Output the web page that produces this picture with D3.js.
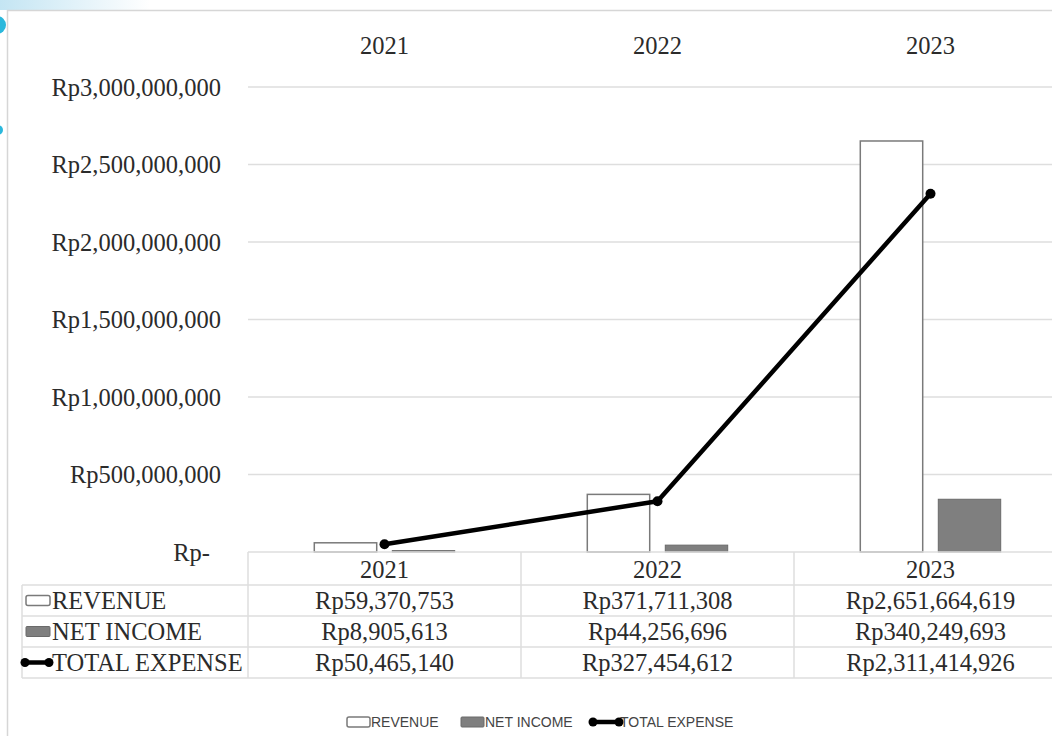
<!DOCTYPE html>
<html>
<head>
<meta charset="utf-8">
<script src="https://cdn.jsdelivr.net/npm/d3@7"></script>
<style>
  body { margin: 0; background: #fff; }
  svg { display: block; }
</style>
</head>
<body>
<div id="chart"></div>
<script>
const years = ["2021", "2022", "2023"];
const revenue = [59370753, 371711308, 2651664619];
const netIncome = [8905613, 44256696, 340249693];
const totalExpense = [50465140, 327454612, 2311414926];
const yTicks = [0, 500000000, 1000000000, 1500000000, 2000000000, 2500000000, 3000000000];
const seriesNames = ["REVENUE", "NET INCOME", "TOTAL EXPENSE"];

const width = 1052, height = 736;
const serif = "'Liberation Serif', 'Times New Roman', serif";
const txtColor = "#2b2b2b";
const gridColor = "#dedede";
const fontSize = "24.5px";

const svg = d3.select("#chart").append("svg")
    .attr("width", width)
    .attr("height", height);

// decoration of the page behind the chart
const defs = svg.append("defs");
const grad = defs.append("linearGradient").attr("id", "topGlow")
    .attr("x1", 0).attr("y1", 0).attr("x2", 1).attr("y2", 0);
grad.append("stop").attr("offset", 0).attr("stop-color", "#c4e5f3");
grad.append("stop").attr("offset", 1).attr("stop-color", "#ffffff");
svg.append("rect").attr("x", 0).attr("y", 0).attr("width", 150).attr("height", 10).attr("fill", "url(#topGlow)");
svg.append("circle").attr("cx", -3).attr("cy", 25).attr("r", 9).attr("fill", "#2bb8dc");
svg.append("circle").attr("cx", -2).attr("cy", 130).attr("r", 5).attr("fill", "#2bb8dc");

// chart frame
svg.append("path")
    .attr("d", `M7.5,${height} V10.5 H${width}`)
    .attr("fill", "none")
    .attr("stroke", "#d6d6d6")
    .attr("stroke-width", 1.5);

const x = d3.scaleBand().domain(years).range([248, 1067]);
const y = d3.scaleLinear().domain([0, 3000000000]).range([552, 87]);
const inner = d3.scaleBand().domain(["rev", "net"]).range([0, x.bandwidth()])
    .paddingInner(0.2).paddingOuter(0.85);

// grid lines
svg.append("g").selectAll("line")
    .data(yTicks.filter(d => d > 0))
    .join("line")
    .attr("x1", 248).attr("x2", width)
    .attr("y1", d => y(d)).attr("y2", d => y(d))
    .attr("stroke", gridColor).attr("stroke-width", 1.5);

// y axis labels
svg.append("g").selectAll("text")
    .data(yTicks)
    .join("text")
    .attr("x", d => d === 0 ? 210 : 221)
    .attr("y", d => y(d))
    .attr("dy", "0.35em")
    .attr("text-anchor", "end")
    .style("font-family", serif)
    .style("font-size", fontSize)
    .style("fill", txtColor)
    .text(d => d === 0 ? "Rp-" : "Rp" + d3.format(",")(d));

// top year labels
svg.append("g").selectAll("text")
    .data(years)
    .join("text")
    .attr("x", d => x(d) + x.bandwidth() / 2)
    .attr("y", 45)
    .attr("dy", "0.35em")
    .attr("text-anchor", "middle")
    .style("font-family", serif)
    .style("font-size", fontSize)
    .style("fill", txtColor)
    .text(d => d);

// bars
const bars = svg.append("g");
bars.selectAll(".rev")
    .data(years)
    .join("rect")
    .attr("class", "rev")
    .attr("x", d => x(d) + inner("rev"))
    .attr("width", inner.bandwidth())
    .attr("y", (d, i) => y(revenue[i]))
    .attr("height", (d, i) => y(0) - y(revenue[i]))
    .attr("fill", "#fff")
    .attr("stroke", "#7a7a7a")
    .attr("stroke-width", 1.5);
bars.selectAll(".net")
    .data(years)
    .join("rect")
    .attr("class", "net")
    .attr("x", d => x(d) + inner("net"))
    .attr("width", inner.bandwidth())
    .attr("y", (d, i) => y(netIncome[i]))
    .attr("height", (d, i) => y(0) - y(netIncome[i]))
    .attr("fill", "#7f7f7f")
    .attr("stroke", "#6a6a6a")
    .attr("stroke-width", 1);

// total expense line
const line = d3.line()
    .x((d, i) => x(years[i]) + x.bandwidth() / 2)
    .y(d => y(d));
svg.append("path")
    .datum(totalExpense)
    .attr("d", line)
    .attr("fill", "none")
    .attr("stroke", "#000")
    .attr("stroke-width", 4.5)
    .attr("stroke-linejoin", "round");
svg.append("g").selectAll("circle")
    .data(totalExpense)
    .join("circle")
    .attr("cx", (d, i) => x(years[i]) + x.bandwidth() / 2)
    .attr("cy", d => y(d))
    .attr("r", 5)
    .attr("fill", "#000");

// data table
const rowLines = [585, 616, 647, 678];
const table = svg.append("g");
table.append("line").attr("x1", 248).attr("x2", width).attr("y1", 552).attr("y2", 552)
    .attr("stroke", gridColor).attr("stroke-width", 1.5);
table.selectAll(".hline")
    .data(rowLines)
    .join("line")
    .attr("class", "hline")
    .attr("x1", 22).attr("x2", width)
    .attr("y1", d => d).attr("y2", d => d)
    .attr("stroke", gridColor).attr("stroke-width", 1.5);
table.append("line").attr("x1", 22).attr("x2", 22).attr("y1", 585).attr("y2", 678)
    .attr("stroke", gridColor).attr("stroke-width", 1.5);
table.selectAll(".vline")
    .data(years)
    .join("line")
    .attr("class", "vline")
    .attr("x1", d => x(d)).attr("x2", d => x(d))
    .attr("y1", 552).attr("y2", 678)
    .attr("stroke", gridColor).attr("stroke-width", 1.5);

const cellText = (sel) => sel
    .attr("dy", "0.35em")
    .style("font-family", serif)
    .style("font-size", fontSize)
    .style("fill", txtColor);

table.selectAll(".head")
    .data(years)
    .join("text")
    .attr("class", "head")
    .attr("x", d => x(d) + x.bandwidth() / 2)
    .attr("y", 569)
    .attr("text-anchor", "middle")
    .call(cellText)
    .text(d => d);

const tableRows = [revenue, netIncome, totalExpense];
tableRows.forEach((vals, r) => {
    const cy = (rowLines[r] + rowLines[r + 1]) / 2;
    table.selectAll(".cell" + r)
        .data(vals)
        .join("text")
        .attr("class", "cell" + r)
        .attr("x", (d, i) => x(years[i]) + x.bandwidth() / 2)
        .attr("y", cy)
        .attr("text-anchor", "middle")
        .call(cellText)
        .text(d => "Rp" + d3.format(",")(d));
    table.append("text")
        .attr("x", 52)
        .attr("y", cy)
        .call(cellText)
        .text(seriesNames[r]);
});

// legend keys drawn in table and in bottom legend
function drawKey(g, name, kx, ky, w) {
    if (name === "REVENUE") {
        g.append("rect").attr("x", kx).attr("y", ky - 5).attr("width", w).attr("height", 10)
            .attr("rx", 2).attr("fill", "#fff").attr("stroke", "#7a7a7a").attr("stroke-width", 1.5);
    } else if (name === "NET INCOME") {
        g.append("rect").attr("x", kx).attr("y", ky - 5).attr("width", w).attr("height", 10)
            .attr("rx", 1).attr("fill", "#7f7f7f").attr("stroke", "#6a6a6a").attr("stroke-width", 1);
    } else {
        g.append("line").attr("x1", kx + 3).attr("x2", kx + w - 3).attr("y1", ky).attr("y2", ky)
            .attr("stroke", "#000").attr("stroke-width", 4.5);
        g.append("circle").attr("cx", kx + 4).attr("cy", ky).attr("r", 4.5).attr("fill", "#000");
        g.append("circle").attr("cx", kx + w - 4).attr("cy", ky).attr("r", 4.5).attr("fill", "#000");
    }
}
seriesNames.forEach((n, r) => {
    const cy = (rowLines[r] + rowLines[r + 1]) / 2;
    drawKey(table, n, n === "TOTAL EXPENSE" ? 21 : 26, cy, n === "TOTAL EXPENSE" ? 32 : 24);
});

// bottom legend
const legendPos = [347, 461, 589];
const legend = svg.append("g");
seriesNames.forEach((n, i) => {
    const kx = legendPos[i];
    const w = n === "TOTAL EXPENSE" ? 34 : 23;
    drawKey(legend, n, kx, 722, w);
    legend.append("text")
        .attr("x", kx + w + (n === "TOTAL EXPENSE" ? -3 : 1))
        .attr("y", 722)
        .attr("dy", "0.35em")
        .style("font-family", "'Liberation Sans', Arial, sans-serif")
        .style("font-size", "14px")
        .style("fill", "#444")
        .text(n);
});
</script>
</body>
</html>
